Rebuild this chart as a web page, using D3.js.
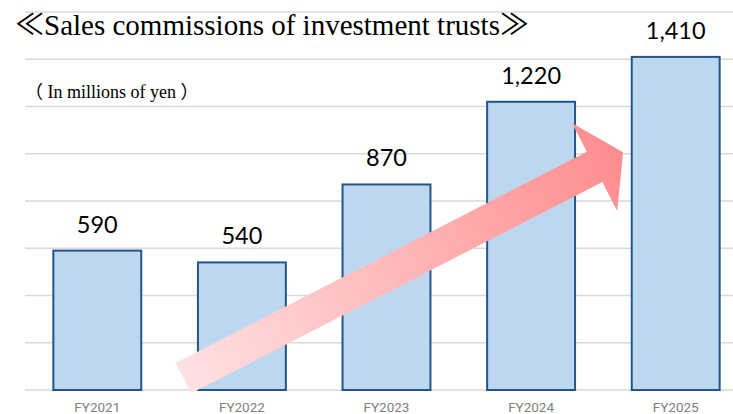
<!DOCTYPE html>
<html>
<head>
<meta charset="utf-8">
<script src="https://cdn.jsdelivr.net/npm/d3@7"></script>
<style>
  body { margin: 0; background: #fff; }
  svg { display: block; }
</style>
</head>
<body>
<div id="chart"></div>
<script>
// data
const years = ["FY2021", "FY2022", "FY2023", "FY2024", "FY2025"];
const commissions = [590, 540, 870, 1220, 1410];
const gridTicks = [0, 200, 400, 600, 800, 1000, 1200, 1400, 1600];
const titleText = "Sales commissions of investment trusts";
const unitText = "In millions of yen";
// trend arrow, anchored in data space (category, offset in steps, value)
const arrowTail = { year: "FY2022", offset: -0.1, value: 50 };
const arrowTip = { year: "FY2025", offset: -0.06, value: 1006 };

const width = 733, height = 414;

let svg = d3.select("#chart").append("svg")
  .attr("width", width)
  .attr("height", height);

let x = d3.scaleBand()
  .domain(years)
  .range([25, 748])
  .paddingInner(0.392)
  .paddingOuter(0.196);

let y = d3.scaleLinear()
  .domain([0, 1600])
  .range([390, 12]);

// gridlines
svg.append("g")
  .selectAll("line")
  .data(gridTicks)
  .join("line")
  .attr("x1", 25)
  .attr("x2", width)
  .attr("y1", d => y(d))
  .attr("y2", d => y(d))
  .attr("stroke", "#d9d9d9")
  .attr("stroke-width", 1.6);

// bars
svg.append("g")
  .selectAll("rect")
  .data(years)
  .join("rect")
  .attr("x", d => x(d))
  .attr("width", x.bandwidth())
  .attr("y", (d, i) => y(commissions[i]))
  .attr("height", (d, i) => y(0) - y(commissions[i]))
  .attr("fill", "#bdd7ee")
  .attr("stroke", "#22558a")
  .attr("stroke-width", 2);

// arrow
function arrowPoint(a) {
  return [x(a.year) + a.offset * x.step(), y(a.value)];
}
let p0 = arrowPoint(arrowTail), p1 = arrowPoint(arrowTip);
let len = Math.hypot(p1[0] - p0[0], p1[1] - p0[1]);
let ang = Math.atan2(p1[1] - p0[1], p1[0] - p0[0]) * 180 / Math.PI;
let bodyHalf = 17, headHalf = 49.5, headLen = 32;

let defs = svg.append("defs");
let grad = defs.append("linearGradient")
  .attr("id", "arrowGrad")
  .attr("gradientUnits", "userSpaceOnUse")
  .attr("x1", 0).attr("y1", 0)
  .attr("x2", len).attr("y2", 0);
grad.append("stop").attr("offset", "0%").attr("stop-color", "#ffe1e2");
grad.append("stop").attr("offset", "100%").attr("stop-color", "#ff8c8e");

let arrowPts = [
  [0, -bodyHalf], [len - headLen, -bodyHalf], [len - headLen, -headHalf],
  [len, 0],
  [len - headLen, headHalf], [len - headLen, bodyHalf], [0, bodyHalf]
];
svg.append("path")
  .attr("d", d3.line()(arrowPts) + "Z")
  .attr("transform", "translate(" + p0[0] + "," + p0[1] + ") rotate(" + ang + ")")
  .attr("fill", "url(#arrowGrad)");

// value labels
svg.append("g")
  .selectAll("text")
  .data(years)
  .join("text")
  .attr("x", d => x(d) + x.bandwidth() / 2)
  .attr("y", (d, i) => y(commissions[i]) - 18)
  .attr("text-anchor", "middle")
  .style("font-family", "Lato, 'Noto Sans', sans-serif")
  .style("font-size", "23.5px")
  .style("fill", "#000")
  .text((d, i) => d3.format(",")(commissions[i]));

// category labels
svg.append("g")
  .selectAll("text")
  .data(years)
  .join("text")
  .attr("x", d => x(d) + x.bandwidth() / 2)
  .attr("y", 411.5)
  .attr("text-anchor", "middle")
  .style("font-family", "Roboto, 'Liberation Sans', sans-serif")
  .style("font-size", "13.5px")
  .style("fill", "#808080")
  .text(d => d);

// title
let title = svg.append("text")
  .attr("x", 15)
  .attr("y", 35)
  .style("font-family", "'Liberation Serif', 'Times New Roman', serif")
  .style("font-size", "29px")
  .style("fill", "#000");
title.append("tspan").style("font-family", "'Noto Sans CJK JP'").text("≪");
title.append("tspan").text(titleText);
title.append("tspan").style("font-family", "'Noto Sans CJK JP'").text("≫");

let unit = svg.append("text")
  .attr("x", 25)
  .attr("y", 98)
  .style("font-family", "'Liberation Serif', 'Times New Roman', serif")
  .style("font-size", "18px")
  .style("fill", "#000");
unit.append("tspan").style("font-family", "'Noto Sans CJK JP'").text("（");
unit.append("tspan").text(" " + unitText + " ");
unit.append("tspan").style("font-family", "'Noto Sans CJK JP'").text("）");
</script>
</body>
</html>
